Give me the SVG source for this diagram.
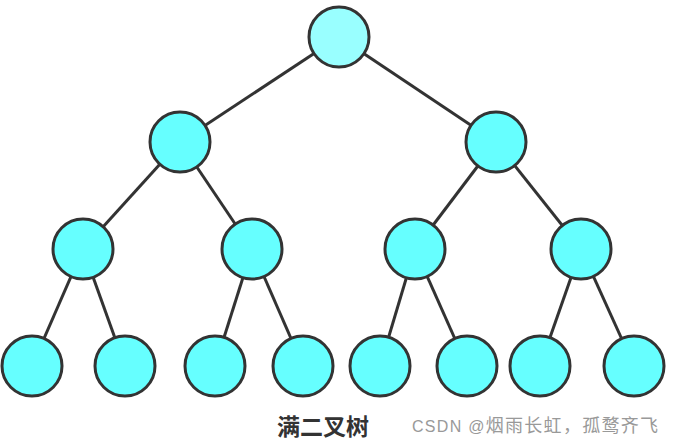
<svg xmlns="http://www.w3.org/2000/svg" width="677" height="441" viewBox="0 0 677 441">
<style>
.n{fill:#66FFFF;stroke:#333;stroke-width:3}
.r{fill:#99FFFF;stroke:#333;stroke-width:3}
.e{stroke:#333;stroke-width:3;fill:none}
.t{font-family:"Noto Sans CJK SC",sans-serif;font-weight:bold;font-size:23px;fill:#333}
.w{font-family:"Liberation Sans","Noto Sans CJK SC",sans-serif;font-size:16px;fill:#999}
</style>
<rect width="677" height="441" fill="#fff"/>
<g id="edges">
<line class="e" x1="339" y1="37" x2="180" y2="142"/>
<line class="e" x1="339" y1="37" x2="496" y2="142"/>
<line class="e" x1="180" y1="142" x2="83" y2="249"/>
<line class="e" x1="180" y1="142" x2="252" y2="249"/>
<line class="e" x1="496" y1="142" x2="415" y2="249"/>
<line class="e" x1="496" y1="142" x2="581" y2="249"/>
<line class="e" x1="83" y1="249" x2="32" y2="366"/>
<line class="e" x1="83" y1="249" x2="125" y2="366"/>
<line class="e" x1="252" y1="249" x2="215" y2="366"/>
<line class="e" x1="252" y1="249" x2="303" y2="366"/>
<line class="e" x1="415" y1="249" x2="380" y2="366"/>
<line class="e" x1="415" y1="249" x2="467" y2="366"/>
<line class="e" x1="581" y1="249" x2="540" y2="366"/>
<line class="e" x1="581" y1="249" x2="634" y2="366"/>
</g>
<g id="n1"><circle class="r" cx="339" cy="37" r="30"/></g>
<g id="n2"><circle class="n" cx="180" cy="142" r="30"/></g>
<g id="n3"><circle class="n" cx="496" cy="142" r="30"/></g>
<g id="n4"><circle class="n" cx="83" cy="249" r="30"/></g>
<g id="n5"><circle class="n" cx="252" cy="249" r="30"/></g>
<g id="n6"><circle class="n" cx="415" cy="249" r="30"/></g>
<g id="n7"><circle class="n" cx="581" cy="249" r="30"/></g>
<g id="n8"><circle class="n" cx="32" cy="366" r="30"/></g>
<g id="n9"><circle class="n" cx="125" cy="366" r="30"/></g>
<g id="n10"><circle class="n" cx="215" cy="366" r="30"/></g>
<g id="n11"><circle class="n" cx="303" cy="366" r="30"/></g>
<g id="n12"><circle class="n" cx="380" cy="366" r="30"/></g>
<g id="n13"><circle class="n" cx="467" cy="366" r="30"/></g>
<g id="n14"><circle class="n" cx="540" cy="366" r="30"/></g>
<g id="n15"><circle class="n" cx="634" cy="366" r="30"/></g>
<text class="t" x="323" y="435" text-anchor="middle">满二叉树</text>
<text class="w" x="412" y="432" textLength="246" lengthAdjust="spacing">CSDN @<tspan font-size="18">烟雨长虹，孤鹜齐飞</tspan></text>
</svg>
